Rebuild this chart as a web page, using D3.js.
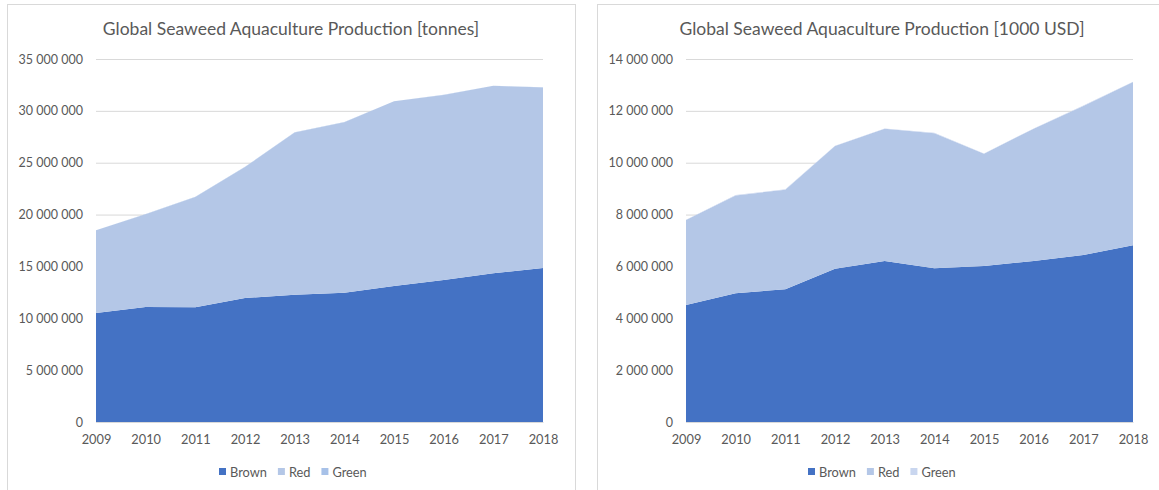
<!DOCTYPE html>
<html>
<head>
<meta charset="utf-8">
<script src="https://cdn.jsdelivr.net/npm/d3@7"></script>
<style>
  html, body { margin: 0; padding: 0; background: #fff; }
  svg { display: block; font-family: Lato, "Open Sans", sans-serif; }
</style>
</head>
<body>
<svg id="chart" width="1159" height="490"></svg>
<script>
// Years on the category axis
const years = [2009, 2010, 2011, 2012, 2013, 2014, 2015, 2016, 2017, 2018];

// Production volume, tonnes
const brownTonnes = [10500000, 11100000, 11060000, 11950000, 12270000, 12470000, 13110000, 13690000, 14340000, 14850000];
const redTonnes   = [7980000, 8930000, 10640000, 12630000, 15640000, 16430000, 17810000, 17840000, 18070000, 17400000];
const greenTonnes = [18000, 17000, 19000, 21000, 16000, 17000, 15000, 16000, 17000, 16000];

// Production value, 1000 USD
const brownUsd = [4510000, 4970000, 5120000, 5910000, 6210000, 5930000, 6020000, 6210000, 6440000, 6820000];
const redUsd   = [3280000, 3770000, 3840000, 4730000, 5100000, 5210000, 4330000, 5100000, 5750000, 6290000];
const greenUsd = [12000, 11000, 12000, 13000, 11000, 12000, 10000, 11000, 12000, 11000];

// Axis tick values
const ticksTonnes = [0, 5000000, 10000000, 15000000, 20000000, 25000000, 30000000, 35000000];
const ticksUsd = [0, 2000000, 4000000, 6000000, 8000000, 10000000, 12000000, 14000000];

const seriesNames = ["Brown", "Red", "Green"];

const svg = d3.select("#chart");
const textColor = "#595959";
const gridColor = "#d9d9d9";

// Thousands separated by spaces: 35 000 000
const fmt = v => d3.format(",")(v).replace(/,/g, " ");

function drawPanel(opts) {
  const g = svg.append("g");

  // chart frame
  g.append("rect")
    .attr("x", opts.frame[0] + 0.5).attr("y", opts.frame[1] + 0.5)
    .attr("width", opts.frame[2]).attr("height", opts.frame[3])
    .attr("fill", "#fff").attr("stroke", gridColor).attr("stroke-width", 1);

  g.append("text")
    .attr("x", opts.frame[0] + opts.frame[2] / 2)
    .attr("y", 35)
    .attr("text-anchor", "middle")
    .attr("fill", textColor)
    .attr("font-size", 17.5)
    .text(opts.title);

  const x = d3.scalePoint().domain(opts.years).range([opts.plot.left, opts.plot.right]);
  const y = d3.scaleLinear().domain([0, d3.max(opts.ticks)]).range([opts.plot.bottom, opts.plot.top]);

  // gridlines and value labels
  const yAxis = d3.axisLeft(y).tickValues(opts.ticks).tickFormat(fmt)
    .tickSize(-(opts.plot.right - opts.plot.left)).tickPadding(13);
  const ya = g.append("g").attr("transform", `translate(${opts.plot.left},0)`).call(yAxis);
  ya.select(".domain").remove();
  ya.selectAll(".tick line").attr("stroke", gridColor);
  ya.selectAll(".tick text").attr("fill", textColor).attr("font-size", 12.5).attr("font-family", "Lato, sans-serif");

  // stacked areas
  const rows = opts.years.map((yr, i) => {
    const r = { year: yr };
    opts.series.forEach(s => { r[s.name] = s.values[i]; });
    return r;
  });
  const stack = d3.stack().keys(opts.series.map(s => s.name)).order(d3.stackOrderNone);
  const layers = stack(rows);
  const area = d3.area()
    .x(d => x(d.data.year))
    .y0(d => y(d[0]))
    .y1(d => y(d[1]));
  g.append("g").selectAll("path").data(layers).join("path")
    .attr("d", area)
    .attr("fill", (d, i) => opts.series[i].color);

  // category axis
  const xAxis = d3.axisBottom(x).tickSize(0).tickPadding(13);
  const xa = g.append("g").attr("transform", `translate(0,${opts.plot.bottom})`).call(xAxis);
  xa.select(".domain").attr("stroke", gridColor);
  xa.selectAll(".tick text").attr("fill", textColor).attr("font-size", 12.8).attr("font-family", "Lato, sans-serif");

  // legend
  const lg = g.append("g").attr("transform", `translate(${opts.legendX},472)`);
  let cx = 0;
  opts.series.forEach((s, i) => {
    const item = lg.append("g").attr("transform", `translate(${cx},0)`);
    item.append("rect").attr("x", 0).attr("y", -4).attr("width", 7).attr("height", 7).attr("fill", s.color);
    const t = item.append("text").attr("x", 11).attr("y", 4.5)
      .attr("fill", textColor).attr("font-size", 12.8).text(s.name);
    cx += 11 + t.node().getComputedTextLength() + 11;
  });
}

drawPanel({
  frame: [7, 4, 568, 500],
  title: "Global Seaweed Aquaculture Production [tonnes]",
  years: years,
  ticks: ticksTonnes,
  plot: { left: 96, right: 543, top: 59, bottom: 422 },
  legendX: 219,
  series: [
    { name: seriesNames[0], values: brownTonnes, color: "#4472c4" },
    { name: seriesNames[1], values: redTonnes, color: "#b4c7e7" },
    { name: seriesNames[2], values: greenTonnes, color: "#a7c1e8" }
  ]
});

drawPanel({
  frame: [597, 4, 570, 500],
  title: "Global Seaweed Aquaculture Production [1000 USD]",
  years: years,
  ticks: ticksUsd,
  plot: { left: 686, right: 1133, top: 59, bottom: 422 },
  legendX: 808,
  series: [
    { name: seriesNames[0], values: brownUsd, color: "#4472c4" },
    { name: seriesNames[1], values: redUsd, color: "#b4c7e7" },
    { name: seriesNames[2], values: greenUsd, color: "#c9d6ef" }
  ]
});
</script>
</body>
</html>
